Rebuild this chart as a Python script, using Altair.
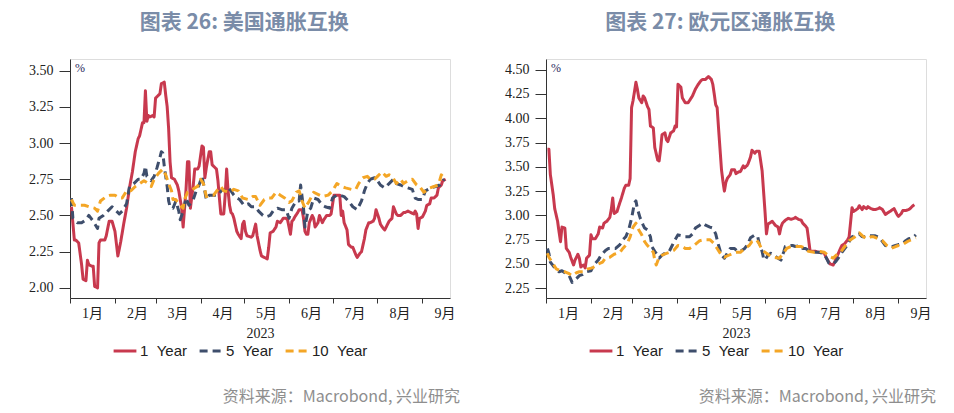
import altair as alt
import pandas as pd

SERIES = ["1 Year", "5 Year", "10 Year"]
COLORS = ["#C8394E", "#3E4E6C", "#F4A626"]
DASHES = [[1, 0], [8, 5], [8, 5]]
TITLES = ["图表 26: 美国通胀互换", "图表 27: 欧元区通胀互换"]
SOURCE = "资料来源：Macrobond, 兴业研究"
UNIT = "%"
YEAR_LABEL = "2023"
US_TICKS = [2.00, 2.25, 2.50, 2.75, 3.00, 3.25, 3.50]
EU_TICKS = [2.25, 2.50, 2.75, 3.00, 3.25, 3.50, 3.75, 4.00, 4.25, 4.50]
US_DOMAIN = [1.93, 3.58]
EU_DOMAIN = [2.15, 4.61]

# (day of 2023 counted from 1 Jan, value in %)
US_1Y = [(1,2.56),(3,2.33),(4,2.33),(6,2.31),(8,2.16),(9,2.06),(11,2.05),(12,2.19),(13,2.16),(15,2.15),(16,2.15),(17,2.01),(19,2.00),(20,2.31),(21,2.33),(24,2.33),(25,2.36),(27,2.46),(29,2.46),(31,2.39),(33,2.22),(35,2.32),(37,2.44),(39,2.55),(41,2.69),(43,2.80),(45,2.94),(47,3.03),(48,3.05),(50,3.14),(51,3.14),(52,3.36),(53,3.15),(54,3.19),(55,3.18),(57,3.19),(58,3.18),(59,3.31),(60,3.32),(62,3.34),(63,3.41),(65,3.42),(66,3.33),(67,3.25),(68,3.10),(69,2.87),(70,2.76),(72,2.75),(74,2.71),(75,2.67),(77,2.55),(78,2.42),(79,2.55),(80,2.68),(81,2.87),(82,2.87),(83,2.55),(85,2.71),(86,2.82),(88,2.82),(89,2.84),(91,2.98),(92,2.97),(93,2.76),(94,2.83),(96,2.94),(97,2.94),(98,2.85),(99,2.84),(101,2.82),(102,2.74),(103,2.62),(104,2.51),(106,2.51),(107,2.64),(108,2.82),(109,2.67),(110,2.57),(111,2.52),(112,2.51),(113,2.48),(115,2.39),(116,2.37),(118,2.34),(119,2.44),(120,2.46),(121,2.39),(122,2.36),(125,2.35),(126,2.36),(128,2.44),(129,2.36),(131,2.26),(132,2.22),(134,2.21),(136,2.20),(137,2.28),(138,2.38),(140,2.39),(142,2.42),(143,2.46),(145,2.45),(147,2.48),(149,2.48),(150,2.47),(152,2.37),(153,2.46),(154,2.47),(155,2.49),(157,2.52),(158,2.54),(160,2.54),(161,2.48),(162,2.39),(163,2.37),(164,2.37),(165,2.45),(167,2.50),(168,2.48),(169,2.42),(171,2.45),(172,2.50),(174,2.45),(175,2.47),(177,2.50),(179,2.50),(180,2.51),(182,2.64),(184,2.64),(186,2.64),(187,2.50),(188,2.53),(189,2.45),(191,2.40),(192,2.30),(194,2.28),(195,2.28),(197,2.23),(198,2.21),(200,2.24),(201,2.25),(203,2.34),(204,2.40),(206,2.45),(207,2.45),(209,2.46),(210,2.48),(211,2.54),(213,2.48),(214,2.44),(216,2.41),(217,2.40),(219,2.44),(220,2.46),(222,2.48),(223,2.56),(225,2.51),(226,2.50),(228,2.50),(230,2.52),(231,2.52),(233,2.53),(235,2.52),(237,2.51),(238,2.53),(239,2.51),(240,2.41),(241,2.48),(243,2.49),(245,2.53),(246,2.57),(248,2.58),(249,2.62),(251,2.62),(253,2.64),(254,2.69),(256,2.71),(257,2.74),(259,2.75)]

US_5Y = [(1,2.62),(2,2.48),(5,2.45),(8,2.45),(11,2.47),(13,2.50),(16,2.46),(19,2.41),(20,2.48),(23,2.50),(26,2.53),(29,2.56),(32,2.53),(34,2.51),(36,2.53),(39,2.58),(41,2.70),(44,2.72),(47,2.75),(49,2.75),(51,2.79),(52,2.84),(53,2.77),(54,2.76),(56,2.74),(58,2.77),(60,2.83),(62,2.90),(63,2.94),(64,2.93),(65,2.84),(67,2.70),(68,2.60),(69,2.56),(71,2.55),(73,2.60),(75,2.53),(76,2.47),(78,2.53),(80,2.62),(82,2.57),(85,2.61),(87,2.67),(89,2.71),(91,2.77),(92,2.72),(94,2.61),(96,2.64),(98,2.64),(102,2.64),(105,2.68),(107,2.67),(109,2.69),(111,2.67),(113,2.64),(115,2.62),(117,2.61),(120,2.57),(123,2.58),(125,2.56),(128,2.56),(130,2.53),(133,2.50),(135,2.49),(138,2.50),(140,2.53),(143,2.55),(146,2.54),(149,2.54),(151,2.48),(153,2.55),(156,2.60),(158,2.60),(159,2.71),(161,2.55),(162,2.42),(164,2.53),(166,2.55),(168,2.62),(171,2.61),(174,2.57),(176,2.56),(179,2.55),(181,2.62),(184,2.64),(186,2.64),(189,2.63),(192,2.60),(195,2.56),(198,2.54),(201,2.60),(203,2.67),(205,2.72),(207,2.75),(210,2.76),(212,2.74),(214,2.71),(217,2.69),(220,2.72),(223,2.75),(225,2.72),(228,2.71),(230,2.70),(233,2.69),(236,2.68),(238,2.62),(240,2.61),(243,2.61),(245,2.67),(249,2.69),(252,2.70),(255,2.71),(258,2.75)]

US_10Y = [(1,2.61),(3,2.57),(6,2.57),(10,2.57),(13,2.56),(17,2.55),(19,2.53),(21,2.60),(25,2.63),(28,2.64),(31,2.64),(34,2.62),(36,2.62),(39,2.67),(42,2.67),(45,2.70),(48,2.72),(51,2.74),(54,2.72),(56,2.70),(58,2.75),(61,2.79),(64,2.82),(66,2.78),(68,2.72),(70,2.67),(71,2.61),(73,2.61),(75,2.58),(78,2.55),(79,2.61),(81,2.66),(83,2.67),(86,2.69),(88,2.70),(90,2.75),(92,2.72),(94,2.63),(96,2.64),(99,2.64),(102,2.68),(104,2.70),(106,2.67),(110,2.66),(113,2.68),(116,2.67),(119,2.62),(123,2.61),(126,2.63),(128,2.63),(131,2.57),(134,2.61),(136,2.62),(139,2.62),(142,2.66),(145,2.64),(148,2.62),(151,2.59),(153,2.60),(156,2.66),(158,2.67),(160,2.60),(162,2.55),(165,2.60),(168,2.66),(172,2.64),(174,2.63),(178,2.64),(181,2.67),(184,2.72),(187,2.70),(190,2.69),(194,2.68),(197,2.68),(199,2.72),(202,2.76),(205,2.77),(207,2.75),(210,2.75),(212,2.77),(215,2.80),(218,2.77),(220,2.78),(222,2.77),(225,2.72),(228,2.75),(230,2.72),(233,2.74),(236,2.75),(239,2.71),(241,2.70),(244,2.66),(248,2.69),(251,2.70),(254,2.71),(256,2.78),(259,2.75)]

EU_1Y = [(1,3.68),(2,3.68),(3,3.42),(5,3.21),(6,3.07),(8,2.94),(9,2.83),(10,2.73),(11,2.88),(13,2.87),(14,2.66),(16,2.62),(17,2.57),(19,2.49),(20,2.54),(22,2.60),(23,2.56),(24,2.47),(26,2.49),(27,2.46),(28,2.56),(30,2.59),(31,2.80),(32,2.76),(34,2.76),(36,2.81),(37,2.88),(39,2.87),(40,2.92),(42,2.94),(44,2.98),(45,3.06),(46,3.18),(47,3.02),(49,3.04),(50,3.09),(52,3.18),(54,3.28),(55,3.31),(57,3.31),(58,3.38),(59,4.11),(60,4.18),(62,4.37),(63,4.30),(64,4.21),(66,4.16),(67,4.23),(68,4.21),(70,4.12),(71,4.09),(72,3.92),(74,3.90),(75,3.70),(77,3.57),(78,3.56),(79,3.68),(80,3.83),(82,3.85),(83,3.78),(84,3.76),(86,3.85),(88,3.87),(89,3.92),(90,3.91),(91,4.35),(93,4.32),(94,4.21),(96,4.16),(98,4.16),(101,4.23),(103,4.30),(105,4.35),(107,4.39),(108,4.40),(110,4.40),(112,4.43),(114,4.40),(115,4.35),(116,4.25),(117,4.14),(118,4.11),(119,3.89),(121,3.47),(122,3.35),(123,3.25),(124,3.34),(125,3.38),(127,3.42),(128,3.47),(130,3.47),(131,3.43),(133,3.45),(134,3.45),(136,3.51),(137,3.49),(139,3.52),(141,3.60),(142,3.67),(144,3.64),(145,3.66),(147,3.66),(148,3.56),(149,3.46),(150,3.25),(151,3.04),(152,2.81),(153,2.91),(154,2.92),(156,2.94),(157,2.92),(158,2.90),(160,2.88),(161,2.81),(162,2.88),(163,2.92),(165,2.95),(167,2.97),(169,2.96),(171,2.97),(172,2.98),(174,2.96),(176,2.95),(177,2.92),(179,2.89),(180,2.87),(181,2.76),(182,2.64),(183,2.63),(186,2.63),(188,2.62),(190,2.62),(192,2.61),(193,2.57),(195,2.52),(196,2.50),(198,2.49),(199,2.52),(201,2.59),(203,2.66),(204,2.69),(206,2.71),(208,2.75),(209,2.78),(211,3.08),(212,3.04),(213,3.05),(215,3.07),(216,3.10),(218,3.06),(219,3.09),(221,3.07),(222,3.09),(224,3.07),(226,3.06),(227,3.06),(229,3.07),(230,3.08),(232,3.06),(234,3.01),(235,3.02),(237,3.04),(239,3.06),(240,3.07),(242,3.01),(243,2.99),(245,3.02),(246,3.05),(248,3.05),(250,3.06),(251,3.07),(253,3.10),(254,3.11)]

EU_5Y = [(1,2.66),(2,2.61),(3,2.52),(6,2.46),(9,2.42),(11,2.43),(14,2.40),(16,2.38),(18,2.31),(21,2.35),(23,2.38),(25,2.39),(28,2.42),(31,2.43),(33,2.49),(36,2.54),(38,2.59),(41,2.64),(43,2.66),(45,2.66),(48,2.66),(51,2.70),(53,2.75),(55,2.78),(57,2.85),(59,2.97),(61,3.13),(62,3.15),(63,3.07),(65,2.97),(67,2.90),(68,2.87),(70,2.85),(72,2.78),(73,2.68),(75,2.63),(76,2.61),(78,2.56),(80,2.59),(82,2.61),(85,2.63),(87,2.69),(89,2.75),(91,2.80),(94,2.79),(96,2.78),(99,2.78),(101,2.81),(103,2.87),(106,2.90),(108,2.92),(110,2.90),(113,2.88),(115,2.87),(117,2.81),(119,2.69),(121,2.59),(123,2.56),(125,2.61),(127,2.66),(130,2.66),(132,2.63),(134,2.63),(137,2.66),(139,2.70),(141,2.77),(144,2.80),(146,2.78),(147,2.71),(149,2.63),(150,2.56),(151,2.54),(153,2.59),(155,2.61),(157,2.59),(160,2.56),(162,2.54),(164,2.63),(165,2.68),(168,2.69),(170,2.69),(172,2.68),(175,2.69),(177,2.66),(179,2.66),(181,2.64),(184,2.63),(186,2.62),(188,2.62),(191,2.61),(193,2.57),(195,2.51),(198,2.50),(200,2.53),(202,2.57),(204,2.62),(207,2.68),(209,2.73),(211,2.78),(214,2.80),(216,2.81),(218,2.78),(221,2.78),(223,2.79),(225,2.79),(227,2.79),(230,2.77),(232,2.73),(234,2.69),(237,2.68),(239,2.68),(241,2.69),(243,2.70),(246,2.71),(248,2.74),(250,2.76),(253,2.77),(255,2.80)]

EU_10Y = [(1,2.61),(2,2.57),(5,2.50),(7,2.45),(10,2.43),(13,2.42),(16,2.40),(18,2.38),(21,2.41),(23,2.42),(26,2.42),(29,2.45),(32,2.46),(36,2.50),(39,2.52),(41,2.56),(44,2.57),(47,2.60),(51,2.62),(53,2.66),(56,2.71),(58,2.78),(60,2.88),(62,2.92),(64,2.85),(66,2.80),(68,2.73),(70,2.69),(72,2.66),(74,2.62),(75,2.54),(76,2.49),(78,2.57),(80,2.59),(83,2.61),(85,2.62),(88,2.64),(91,2.69),(94,2.68),(96,2.66),(99,2.66),(102,2.69),(106,2.74),(109,2.75),(113,2.75),(116,2.71),(118,2.66),(121,2.59),(123,2.57),(126,2.59),(129,2.61),(131,2.62),(134,2.62),(137,2.66),(140,2.69),(142,2.73),(145,2.75),(147,2.71),(149,2.64),(152,2.61),(154,2.59),(157,2.57),(161,2.56),(164,2.62),(166,2.66),(169,2.68),(172,2.68),(176,2.68),(179,2.66),(181,2.63),(185,2.62),(188,2.63),(192,2.62),(195,2.58),(198,2.56),(200,2.59),(203,2.62),(206,2.68),(209,2.74),(211,2.76),(214,2.79),(216,2.82),(219,2.78),(221,2.76),(224,2.78),(226,2.78),(229,2.76),(232,2.74),(235,2.69),(238,2.66),(241,2.68),(243,2.69),(246,2.70),(249,2.73),(252,2.75),(255,2.77)]

START = pd.Timestamp("2023-01-01")


def frame(series_lists):
    rows = []
    for name, pts in zip(SERIES, series_lists):
        for d, v in pts:
            rows.append({"date": START + pd.Timedelta(days=d), "value": v, "series": name})
    return pd.DataFrame(rows)


SERIF = "'Liberation Serif', 'Noto Sans CJK SC', serif"
CJK = "'Noto Sans CJK SC', sans-serif"


def panel(series_lists, title, ydomain, yticks):
    df = frame(series_lists)
    leg = alt.Legend(
        orient="none", legendX=42, legendY=279, direction="horizontal", title=None,
        symbolType="stroke", symbolSize=520, symbolStrokeWidth=3,
        labelFont="'Liberation Sans', Arial, sans-serif", labelFontSize=15, labelColor="#222222",
        columnPadding=6, labelOffset=2,
        labelExpr="replace(datum.label, ' ', '\u00a0\u00a0')",
    )
    lines = alt.Chart(df).mark_line(strokeWidth=3, strokeCap="butt", strokeJoin="round").encode(
        x=alt.X(
            "date:T",
            scale=alt.Scale(domain=[alt.DateTime(year=2023, month=1, date=1),
                                    alt.DateTime(year=2023, month=9, date=20)]),
            axis=alt.Axis(
                values=[alt.DateTime(year=2023, month=m, date=1) for m in range(1, 10)],
                labelExpr="(month(datum.value) + 1) + '月'",
                labelOffset=22, labelFlush=False, labelOverlap=False,
                tickSize=5, labelPadding=3, grid=False,
                labelFont=SERIF, labelFontSize=14, labelColor="#222222",
                title=YEAR_LABEL, titleFont=SERIF, titleFontSize=14,
                titleFontWeight="normal", titleColor="#222222", titlePadding=6,
                domainColor="#333333", tickColor="#333333",
            ),
        ),
        y=alt.Y(
            "value:Q",
            scale=alt.Scale(domain=ydomain, nice=False, zero=False),
            axis=alt.Axis(
                values=yticks, format=".2f", title=None, grid=False,
                tickSize=11, labelPadding=6,
                labelFont=SERIF, labelFontSize=14, labelColor="#222222",
                domainColor="#333333", tickColor="#333333",
            ),
        ),
        color=alt.Color("series:N", scale=alt.Scale(domain=SERIES, range=COLORS), legend=leg),
        strokeDash=alt.StrokeDash("series:N", scale=alt.Scale(domain=SERIES, range=DASHES), legend=leg),
    )
    pct = alt.Chart(pd.DataFrame({"t": [UNIT]})).mark_text(
        align="left", baseline="middle", font=SERIF, fontSize=12, color="#1F2A5C"
    ).encode(x=alt.value(5), y=alt.value(9), text="t:N")
    src = alt.Chart(pd.DataFrame({"t": [SOURCE]})).mark_text(
        align="right", baseline="middle", font=CJK, fontSize=16, color="#8E8E8E"
    ).encode(x=alt.value(390), y=alt.value(338), text="t:N")
    return alt.layer(lines, pct, src).properties(
        width=380, height=239,
        title=alt.TitleParams(
            text=title, anchor="middle", frame="bounds", font=CJK, fontSize=21,
            fontWeight="bold", color="#7A8CA8", offset=26,
        ),
    )


left = panel([US_1Y, US_5Y, US_10Y], TITLES[0], US_DOMAIN, US_TICKS)
right = panel([EU_1Y, EU_5Y, EU_10Y], TITLES[1], EU_DOMAIN, EU_TICKS)

chart = (
    alt.hconcat(left, right, spacing=43)
    .resolve_scale(color="independent", strokeDash="independent", x="independent", y="independent")
    .resolve_legend(color="independent", strokeDash="independent")
    .properties(padding={"left": 20, "top": 3, "right": 0, "bottom": 0})
    .configure_view(stroke=None)
    .configure(background="white")
)

chart.save("out.html", embed_options={"renderer": "svg", "actions": False})
